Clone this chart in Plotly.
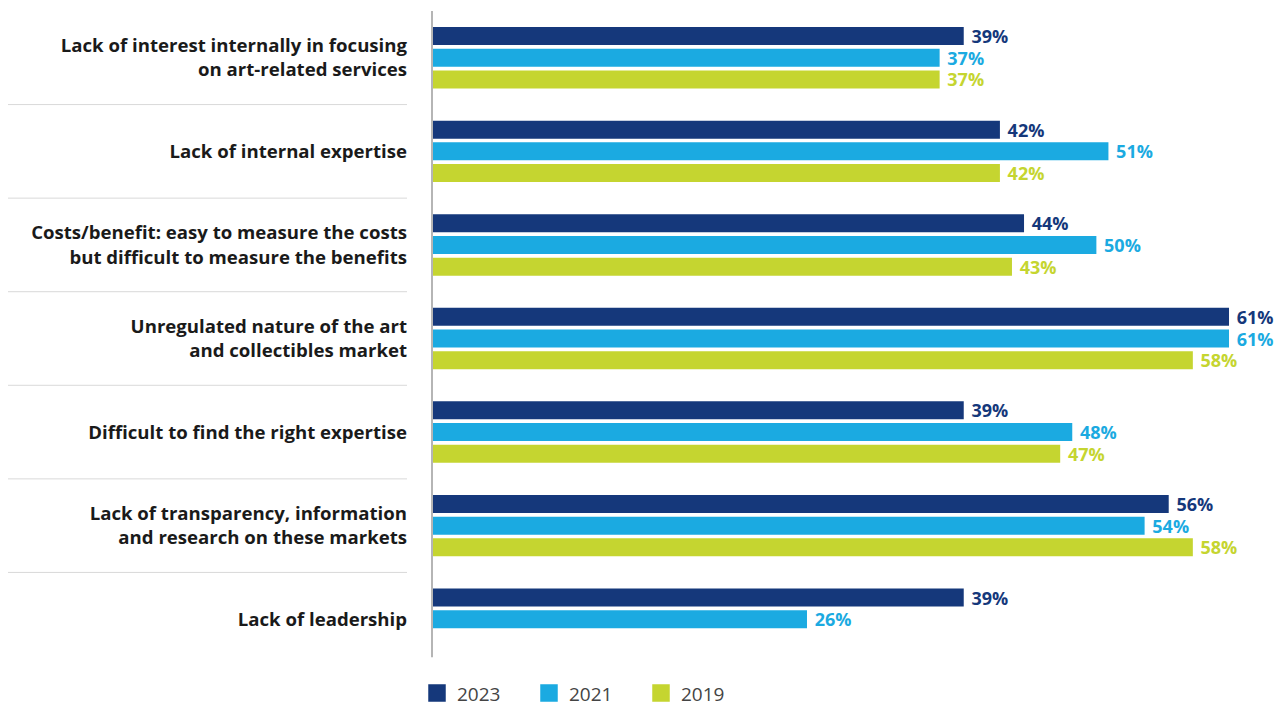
import plotly.graph_objects as go

# ---------------- data ----------------
categories = [
    "Lack of interest internally in focusing<br>on art-related services",
    "Lack of internal expertise",
    "Costs/benefit: easy to measure the costs<br>but difficult to measure the benefits",
    "Unregulated nature of the art<br>and collectibles market",
    "Difficult to find the right expertise",
    "Lack of transparency, information<br>and research on these markets",
    "Lack of leadership",
]
series_names = ["2023", "2021", "2019"]
values_2023 = [39, 42, 44, 61, 39, 56, 39]
values_2021 = [37, 51, 50, 61, 48, 54, 26]
values_2019 = [37, 42, 43, 58, 47, 58, None]

# ---------------- style ----------------
colors = ["#15387B", "#1BAAE1", "#C5D530"]
FONT = "Open Sans"
AXIS_START = -5.1          # value-axis position of the left edge where bars begin
AXIS_END = 64.98

# page has an 8px body margin, so the figure is 8px smaller and shifted
OFF = 8
W, H = 1287 - OFF, 707 - OFF
ML, MR, MT, MB = 432 - OFF, 10, 11.25 - OFF, 41.25
PW = W - ML - MR
PH = H - MT - MB

fig = go.Figure()
series = [values_2023, values_2021, values_2019]
for name, vals, col in zip(series_names, series, colors):
    fig.add_trace(go.Bar(
        name=name,
        orientation="h",
        y=categories,
        x=[(v - AXIS_START) if v is not None else None for v in vals],
        base=AXIS_START,
        marker=dict(color=col, line=dict(width=0)),
        text=[f" {v}%" if v is not None else "" for v in vals],
        textposition="outside",
        constraintext="none",
        textfont=dict(family=FONT, size=18, color=col, weight="bold"),
        cliponaxis=False,
        showlegend=False,
        hoverinfo="skip",
    ))
    # legend entry (square swatch)
    fig.add_trace(go.Scatter(
        name=name, x=[None], y=[None], mode="markers",
        marker=dict(symbol="square", size=16, color=col, line=dict(width=1.5, color=col)),
        showlegend=True, hoverinfo="skip",
    ))

shapes = []
# separators between category groups (in the label area)
for i in range(len(categories) - 1):
    shapes.append(dict(
        type="line", xref="paper", yref="y",
        x0=-ML / PW, x1=(407 - OFF - ML) / PW,
        y0=i + 0.5, y1=i + 0.5,
        line=dict(color="#d9d9d9", width=1),
    ))
# vertical axis line at bar origin
shapes.append(dict(
    type="line", xref="paper", yref="paper",
    x0=0, x1=0, y0=(H - MB - (657 - OFF)) / PH, y1=1.0,
    line=dict(color="#b5b5b5", width=2),
))

fig.update_layout(
    width=W, height=H,
    margin=dict(l=ML, r=MR, t=MT, b=MB, autoexpand=False),
    paper_bgcolor="white", plot_bgcolor="white",
    barmode="group",
    bargap=0.304,
    bargroupgap=0.17,
    font=dict(family=FONT, color="#1a1a1a"),
    xaxis=dict(range=[AXIS_START, AXIS_END], visible=False, showgrid=False, zeroline=False),
    yaxis=dict(
        range=[len(categories) - 0.5, -0.5],
        showgrid=False, zeroline=False, showline=False,
        ticks="", ticklabelstandoff=24, automargin=False,
        tickfont=dict(family=FONT, size=18.6, color="#1a1a1a", weight="bold"),
    ),
    legend=dict(
        orientation="h",
        x=(417 - ML - OFF) / PW, xanchor="left",
        y=-(693 - OFF - (H - MB)) / PH, yanchor="middle",
        font=dict(family=FONT, size=19, color="#444444"),
        entrywidth=67, entrywidthmode="pixels",
        traceorder="normal",
        bgcolor="rgba(0,0,0,0)",
    ),
    shapes=shapes,
    showlegend=True,
)

fig.write_html("out.html")
